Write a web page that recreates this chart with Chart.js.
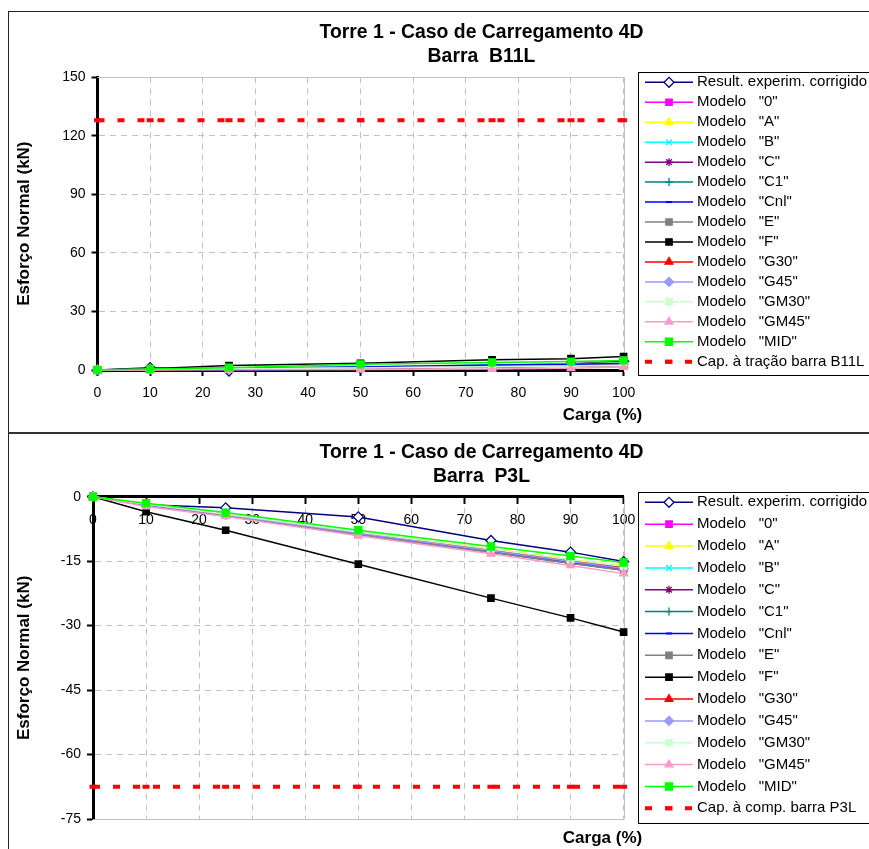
<!DOCTYPE html>
<html><head><meta charset="utf-8">
<script src="https://cdn.jsdelivr.net/npm/chart.js@4.4.1/dist/chart.umd.min.js"></script>
<style>
html,body{margin:0;padding:0;background:#fff;overflow:hidden;width:869px;height:849px;}
#b1{position:absolute;left:8px;top:11px;width:1000px;height:421px;border-left:1px solid #222;border-top:1px solid #222;}
#b2{position:absolute;left:8px;top:432px;width:1000px;height:430px;border-left:1px solid #222;border-top:2px solid #333;}
#c1{position:absolute;left:9px;top:12px;}
#c2{position:absolute;left:9px;top:434px;}
</style></head>
<body>
<div id="b1"></div><div id="b2"></div>
<canvas id="c1" width="947" height="420" style="width:947px;height:420px"></canvas>
<canvas id="c2" width="947" height="415" style="width:947px;height:415px"></canvas>
<script>
// ---------- DATA ----------
const X_CARGA = [0, 10, 25, 50, 75, 90, 100];
const SERIES_NAMES = ['Result. experim. corrigido','Modelo   "0"','Modelo   "A"','Modelo   "B"','Modelo   "C"','Modelo   "C1"','Modelo   "Cnl"','Modelo   "E"','Modelo   "F"','Modelo   "G30"','Modelo   "G45"','Modelo   "GM30"','Modelo   "GM45"','Modelo   "MID"'];
const TITLE_LINE1 = 'Torre 1 - Caso de Carregamento 4D';
const B11L_TITLE2 = 'Barra  B11L';
const P3L_TITLE2 = 'Barra  P3L';
const Y_TITLE = 'Esforço Normal (kN)';
const X_TITLE = 'Carga (%)';

// Barra B11L (kN)
const B11L_EXP   = [0, 1.2, -0.5, 0.9, 2.4, 3.2, 4.5];
const B11L_M0    = [0, 0.3, 0.6, 1.1, 1.8, 2.2, 2.5];
const B11L_MA    = [0, 0.4, 0.9, 1.7, 2.7, 3.2, 3.6];
const B11L_MB    = [0, 0.4, 0.9, 1.6, 2.6, 3.1, 3.5];
const B11L_MC    = [0, 0.3, 0.7, 1.3, 2.0, 2.4, 2.7];
const B11L_MC1   = [0, 0.3, 0.7, 1.3, 2.1, 2.5, 2.8];
const B11L_MCNL  = [0, 0.4, 0.9, 1.5, 2.5, 3.0, 3.3];
const B11L_ME    = [0, 0.3, 0.6, 1.0, 1.6, 1.9, 2.1];
const B11L_MF    = [0, 0.6, 2.3, 3.4, 5.2, 5.8, 6.9];
const B11L_MG30  = [0, 0.2, 0.4, 0.8, 1.6, 2.0, 2.4];
const B11L_MG45  = [0, 0.3, 0.6, 1.1, 1.8, 2.2, 2.6];
const B11L_MGM30 = [0, 0.3, 0.6, 1.0, 1.7, 2.0, 2.3];
const B11L_MGM45 = [0, 0.0, 0.1, 0.2, 0.5, 0.9, 1.5];
const B11L_MMID  = [0, 0.5, 1.2, 2.9, 3.9, 4.3, 4.9];
const B11L_CAP = 128;
const B11L_CAP_LABEL = 'Cap. à tração barra B11L';
const B11L_Y = {min: 0, max: 150, step: 30};

// Barra P3L (kN)
const P3L_EXP   = [0, -1.9, -2.6, -4.7, -10.2, -12.9, -15.1];
const P3L_M0    = [0, -1.8, -4.2, -8.5, -12.5, -15.0, -16.6];
const P3L_MA    = [0, -1.7, -4.0, -8.2, -12.1, -14.6, -16.1];
const P3L_MB    = [0, -1.8, -4.1, -8.3, -12.3, -14.8, -16.3];
const P3L_MC    = [0, -1.9, -4.3, -8.7, -12.8, -15.4, -17.0];
const P3L_MC1   = [0, -1.9, -4.4, -8.8, -12.9, -15.5, -17.1];
const P3L_MCNL  = [0, -1.8, -4.2, -8.6, -12.6, -15.2, -16.8];
const P3L_ME    = [0, -1.9, -4.3, -8.8, -12.9, -15.5, -17.1];
const P3L_MF    = [0, -3.5, -7.8, -15.7, -23.6, -28.2, -31.5];
const P3L_MG30  = [0, -1.8, -4.1, -8.4, -12.4, -14.9, -16.5];
const P3L_MG45  = [0, -1.8, -4.2, -8.5, -12.6, -15.1, -16.7];
const P3L_MGM30 = [0, -1.7, -4.0, -8.2, -12.2, -14.7, -16.2];
const P3L_MGM45 = [0, -2.3, -4.6, -9.1, -13.3, -16.0, -17.9];
const P3L_MMID  = [0, -1.5, -3.7, -7.8, -11.6, -13.8, -15.3];
const P3L_CAP = -67.5;
const P3L_CAP_LABEL = 'Cap. à comp. barra P3L';
const P3L_Y = {min: -75, max: 0, step: 15};

// ---------- STYLES ----------
const STYLES = [
  {c:'#000080', p:'rectRot', r:5, fill:'#ffffff'},
  {c:'#FF00FF', p:'rect', r:4.5},
  {c:'#FFFF00', p:'triangle', r:4.5},
  {c:'#00FFFF', p:'crossRot', r:4},
  {c:'#800080', p:'star', r:4},
  {c:'#008080', p:'cross', r:4},
  {c:'#0000FF', p:'line', r:3},
  {c:'#808080', p:'rect', r:4.5},
  {c:'#000000', p:'rect', r:4.5},
  {c:'#FF0000', p:'triangle', r:4.5},
  {c:'#9999FF', p:'rectRot', r:4.5},
  {c:'#CCFFCC', p:'rect', r:4.5},
  {c:'#FF99CC', p:'triangle', r:4.5},
  {c:'#00FF00', p:'rect', r:5}
];
const FONT = "'Liberation Sans', Arial, sans-serif";
Chart.defaults.font.family = FONT;
Chart.defaults.color = '#000';

function buildDatasets(valsList, cap, capLabel) {
  const n = valsList.length + 1;
  const ds = valsList.map((vals, i) => {
    const s = STYLES[i];
    return {
      label: SERIES_NAMES[i],
      data: X_CARGA.map((x, k) => ({x: x, y: vals[k]})),
      borderColor: s.c, backgroundColor: s.fill || s.c,
      borderWidth: 1.5, pointStyle: s.p, pointRadius: s.r,
      pointBorderColor: s.c, pointBackgroundColor: s.fill || s.c,
      pointBorderWidth: (s.p === 'line' ? 2 : 1.3), clip: false,
      order: n - i
    };
  });
  ds.push({
    label: capLabel,
    data: X_CARGA.map(x => ({x: x, y: cap})),
    borderColor: '#FF0000', backgroundColor: '#FF0000',
    borderWidth: 4, borderDash: [7, 13],
    pointStyle: 'line', pointRadius: 3.5, pointBorderWidth: 4,
    pointBorderColor: '#FF0000', clip: false, order: 0, isCap: true
  });
  return ds;
}

const boxLegend = {
  id: 'boxLegend',
  afterDraw(chart, args, o) {
    const ctx = chart.ctx;
    ctx.save();
    ctx.strokeStyle = '#000'; ctx.lineWidth = 1;
    ctx.strokeRect(o.x + 0.5, o.y + 0.5, 400, o.h);
    ctx.font = '15px ' + FONT;
    ctx.textBaseline = 'middle'; ctx.textAlign = 'left';
    chart.data.datasets.forEach((ds, i) => {
      const y = o.y0 + i * o.dy;
      ctx.strokeStyle = ds.borderColor;
      ctx.lineWidth = ds.isCap ? 4 : 1.5;
      ctx.setLineDash(ds.borderDash || []);
      ctx.beginPath(); ctx.moveTo(o.lx1, y); ctx.lineTo(o.lx2, y); ctx.stroke();
      ctx.setLineDash([]);
      ctx.fillStyle = ds.pointBackgroundColor || ds.borderColor;
      ctx.strokeStyle = ds.pointBorderColor || ds.borderColor;
      ctx.lineWidth = ds.pointBorderWidth;
      Chart.helpers.drawPoint(ctx, {pointStyle: ds.pointStyle, radius: ds.pointRadius, borderWidth: ds.pointBorderWidth, rotation: 0}, (o.lx1 + o.lx2) / 2, y);
      ctx.fillStyle = '#000';
      ctx.fillText(ds.label, o.tx, y);
    });
    // x-axis title
    ctx.font = 'bold 17px ' + FONT;
    ctx.textAlign = 'center';
    ctx.fillStyle = '#000';
    ctx.fillText(X_TITLE, o.xtX, o.xtY);
    // chart title (two lines, centred on the full frame)
    ctx.font = 'bold 19.4px ' + FONT;
    ctx.fillText(TITLE_LINE1, o.ttX, o.ttY);
    ctx.fillText(o.title2, o.ttX, o.ttY + 24);
    ctx.restore();
  }
};

const plotEdges = {
  id: 'plotEdges',
  beforeDatasetsDraw(chart, args, o) {
    const a = chart.chartArea, ctx = chart.ctx;
    ctx.save();
    ctx.strokeStyle = '#c0c0c0'; ctx.lineWidth = 1;
    ctx.beginPath();
    if (o.edges.includes('top')) { ctx.moveTo(a.left, Math.round(a.top) + 0.5); ctx.lineTo(a.right, Math.round(a.top) + 0.5); }
    if (o.edges.includes('right')) { ctx.moveTo(Math.round(a.right) + 0.5, a.top); ctx.lineTo(Math.round(a.right) + 0.5, a.bottom); }
    if (o.edges.includes('bottom')) { ctx.moveTo(a.left, Math.round(a.bottom) + 0.5); ctx.lineTo(a.right, Math.round(a.bottom) + 0.5); }
    ctx.stroke();
    ctx.restore();
  }
};

function makeChart(id, datasets, yr, L) {
  const grid = {color: '#c0c0c0', lineWidth: 1, tickColor: '#000', tickLength: 6, tickWidth: 2};
  const border = {color: '#000', width: 3, dash: [6, 5]};
  return new Chart(document.getElementById(id), {
    type: 'line',
    data: {datasets: datasets},
    options: {
      responsive: false, animation: false,
      layout: {padding: {left: 0, right: L.padRight, top: L.padTop, bottom: L.padBottom}},
      scales: {
        x: {
          type: 'linear', min: 0, max: 100,
          position: L.xPos,
          ticks: {stepSize: 10, font: {size: 14}, color: '#000', padding: 9, maxRotation: 0},
          grid: grid, border: border,
          afterFit: L.xHeight ? (s => { s.height = L.xHeight; }) : undefined
        },
        y: {
          type: 'linear', min: yr.min, max: yr.max,
          ticks: {stepSize: yr.step, font: {size: 14}, color: '#000', padding: 6},
          grid: grid, border: border,
          title: {display: true, text: Y_TITLE, font: {size: 17, weight: 'bold'}, color: '#000', padding: {top: 5, bottom: 0}},
          afterFit: s => { s.width = L.yWidth; }
        }
      },
      plugins: {
        legend: {display: false},
        tooltip: {enabled: false},
        title: {display: false},
        boxLegend: L.legend,
        plotEdges: {edges: L.edges}
      }
    },
    plugins: [boxLegend, plotEdges]
  });
}

makeChart('c1',
  buildDatasets([B11L_EXP, B11L_M0, B11L_MA, B11L_MB, B11L_MC, B11L_MC1, B11L_MCNL, B11L_ME, B11L_MF, B11L_MG30, B11L_MG45, B11L_MGM30, B11L_MGM45, B11L_MMID], B11L_CAP, B11L_CAP_LABEL),
  B11L_Y,
  {padRight: 332.4, padTop: 65.3, padBottom: 0, xPos: 'bottom', xHeight: 62, yWidth: 88.5,
   edges: ['top', 'right'],
   legend: {x: 629, y: 60, h: 303, y0: 70.3, dy: 19.96, lx1: 636, lx2: 684, tx: 688, xtX: 593.5, xtY: 403,
            ttX: 472.5, ttY: 20.5, title2: B11L_TITLE2}});

makeChart('c2',
  buildDatasets([P3L_EXP, P3L_M0, P3L_MA, P3L_MB, P3L_MC, P3L_MC1, P3L_MCNL, P3L_ME, P3L_MF, P3L_MG30, P3L_MG45, P3L_MGM30, P3L_MGM45, P3L_MMID], P3L_CAP, P3L_CAP_LABEL),
  P3L_Y,
  {padRight: 332.4, padTop: 62.7, padBottom: 30, xPos: {y: 0}, xHeight: 0, yWidth: 84,
   edges: ['right', 'bottom'],
   legend: {x: 629, y: 58, h: 331, y0: 68.3, dy: 21.86, lx1: 636, lx2: 684, tx: 688, xtX: 593.5, xtY: 404,
            ttX: 472.5, ttY: 18.5, title2: P3L_TITLE2}});
</script>
</body></html>
